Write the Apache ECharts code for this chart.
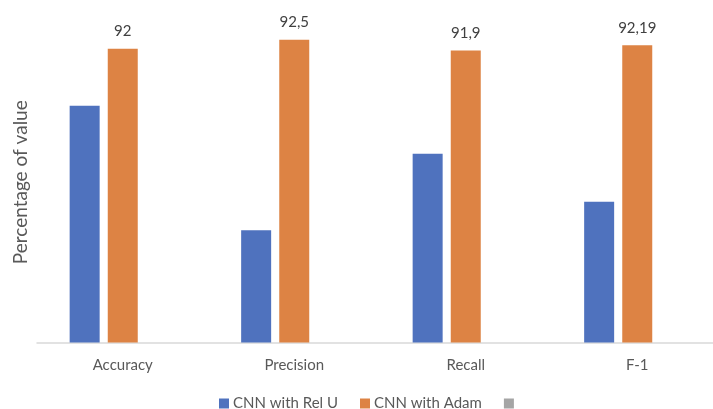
<!DOCTYPE html>
<html><head><meta charset="utf-8">
<script src="https://cdn.jsdelivr.net/npm/echarts@6/dist/echarts.min.js"></script>
<style>html,body{margin:0;padding:0;background:#fff}#c{width:713px;height:409px}</style>
</head><body><div id="c"></div>
<script>
const categories = ['Accuracy', 'Precision', 'Recall', 'F-1'];
const reluValues = [88.8, 81.8, 86.1, 83.4];
const adamValues = [92, 92.5, 91.9, 92.19];
const thirdValues = [];
const seriesNames = ['CNN with Rel U', 'CNN with Adam', ' '];

const chart = echarts.init(document.getElementById('c'));
const font = 'Lato, "Open Sans", sans-serif';
chart.setOption({
  animation: false,
  textStyle: { fontFamily: font },
  grid: { left: 37, width: 686, top: 22, height: 320.5, containLabel: false, outerBoundsMode: 'none' },
  legend: {
    top: 391, left: 214, itemWidth: 10, itemHeight: 10, itemGap: 22,
    icon: 'rect',
    textStyle: { fontSize: 15, color: '#595959', fontFamily: font, padding: [0, 0, 0, -1] },
    data: seriesNames
  },
  xAxis: {
    type: 'category', data: categories,
    axisLine: { lineStyle: { color: '#d9d9d9', width: 1.5 } },
    axisTick: { show: false },
    axisLabel: { color: '#595959', fontSize: 15, margin: 15, fontFamily: font }
  },
  yAxis: {
    type: 'value', min: 75.5, max: 93.5,
    name: 'Percentage of value', nameLocation: 'middle', nameGap: 7,
    nameTextStyle: { color: '#595959', fontSize: 19, fontFamily: font },
    axisLine: { show: false }, axisTick: { show: false },
    axisLabel: { show: false }, splitLine: { show: false }
  },
  series: [
    { name: seriesNames[0], type: 'bar', data: reluValues, barWidth: 30, barGap: '27%',
      itemStyle: { color: '#4f72be' } },
    { name: seriesNames[1], type: 'bar', data: adamValues, barWidth: 30, barGap: '27%',
      itemStyle: { color: '#dd8344' },
      label: { show: true, position: 'top', distance: 10, fontSize: 15, color: '#404040',
        fontFamily: font,
        formatter: p => String(p.value).replace('.', ',') } },
    { name: seriesNames[2], type: 'bar', data: thirdValues, barWidth: 30, barGap: '27%',
      itemStyle: { color: '#a5a5a5' } }
  ]
});
</script></body></html>
